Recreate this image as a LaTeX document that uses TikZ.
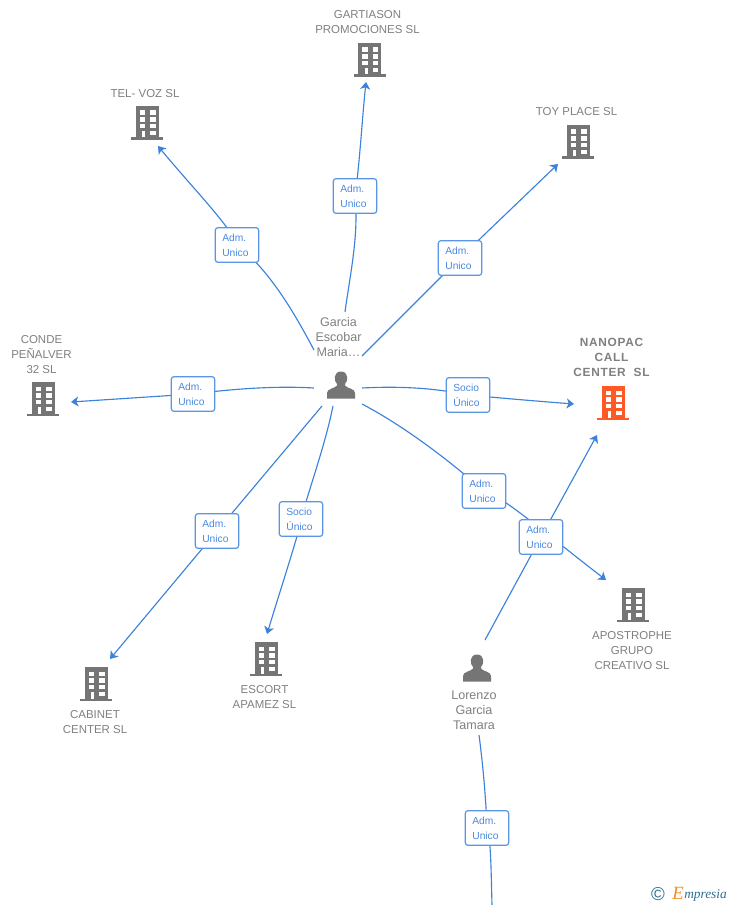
\documentclass[tikz,border=0pt]{standalone}
\usepackage{fontspec}
\setmainfont{Liberation Sans}
\newfontfamily\logofont{Liberation Serif}
\definecolor{linkblue}{HTML}{3B82DC}
\definecolor{boxblue}{HTML}{5A96E6}
\definecolor{labelblue}{HTML}{4A8AE0}
\definecolor{icongrey}{HTML}{757575}
\definecolor{textgrey}{HTML}{808080}
\definecolor{mainorange}{HTML}{FF5A26}
\definecolor{logoteal}{HTML}{2F6F8F}
\definecolor{logoorange}{HTML}{F58A1F}
\usetikzlibrary{arrows.meta}
\tikzset{
  conn/.style={draw=linkblue,line width=0.85pt},
  arr/.style={conn,-{Stealth[length=5.5pt,width=7.5pt,inset=1.5pt]}},
  linklab/.style={draw=boxblue,fill=white,rounded corners=2pt,line width=0.9pt,minimum width=32.5pt,minimum height=26pt,inner ysep=0pt,inner xsep=0pt,text width=22pt,align=left,font=\fontsize{7.7}{11.25}\selectfont,text=labelblue},
  entname/.style={align=center,font=\fontsize{8.6}{11.25}\selectfont,text=textgrey,inner sep=0pt},
  mainname/.style={align=center,font=\bfseries\fontsize{8.9}{11.25}\selectfont\addfontfeature{LetterSpace=6},text=textgrey,inner sep=0pt},
  persname/.style={align=center,font=\fontsize{9.4}{11.25}\selectfont,text=textgrey,inner sep=0pt},
  anchorbox/.style={minimum width=24pt,minimum height=25pt,inner sep=0pt},
  pics/bld/.style={code={
    \fill[#1] (-16,17) rectangle (16,14.5);
    \fill[#1] (-11.5,-17) rectangle (11.5,16);
    \foreach \yy in {-10.2,-3.3,3}{
      \fill[white] (-7.3,\yy-2.3) rectangle (-1.7,\yy+2.3);
      \fill[white] (3,\yy-2.3) rectangle (8.7,\yy+2.3);
    }
    \fill[white] (-5,7.7) rectangle (-1.7,14.5);
    \fill[white] (3,7.7) rectangle (8.7,12);
  }},
  pics/psn/.style={code={
    \fill[icongrey] (-14,13.5) -- (-14,8) .. controls (-14,3.5) and (-6,3.5) .. (-4,0.5) -- (-4,-1) .. controls (-7.5,-4) and (-7.5,-13.5) .. (0,-13.5) .. controls (7.5,-13.5) and (7.5,-4) .. (4,-1) -- (4,0.5) .. controls (6,3.5) and (14,3.5) .. (14,8) -- (14,13.5) -- cycle;
  }}
}
\begin{document}
\begin{tikzpicture}[x=0.75pt,y=-0.75pt]
\useasboundingbox (0,0) rectangle (728,905);
\fill[white] (0,0) rectangle (728,905);
% icon anchors
\node[anchorbox] (telvoz) at (147,123) {};
\node[anchorbox] (gart) at (369.5,60) {};
\node[anchorbox] (toy) at (578,142) {};
\node[anchorbox] (conde) at (43,399) {};
\node[anchorbox] (cabinet) at (96,684) {};
\node[anchorbox] (escort) at (266,659) {};
\node[anchorbox] (nanopac) at (613,403) {};
\node[anchorbox] (apos) at (633,605) {};
\node[anchorbox] (garcia) at (341,385) {};
\node[anchorbox] (lorenzo) at (477,668) {};
\pic at (telvoz) {bld=icongrey};
\pic at (gart) {bld=icongrey};
\pic at (toy) {bld=icongrey};
\pic at (conde) {bld=icongrey};
\pic at (cabinet) {bld=icongrey};
\pic at (escort) {bld=icongrey};
\pic at (nanopac) {bld=mainorange};
\pic at (apos) {bld=icongrey};
\pic at (garcia) {psn};
\pic at (lorenzo) {psn};
% free ends
\coordinate (gA) at (314,350);
\coordinate (gB) at (345,312);
\coordinate (gC) at (362,356);
\coordinate (gD) at (314,388);
\coordinate (gE) at (322,406);
\coordinate (gF) at (333,406);
\coordinate (gG) at (362,388);
\coordinate (gH) at (362,404);
\coordinate (lA) at (485,640);
\coordinate (lB) at (479,735);
\coordinate (bot) at (492,905);
\coordinate (tA) at (158,146);
\coordinate (tB) at (366,82);
\coordinate (tC) at (558,164);
\coordinate (tD) at (71,402);
\coordinate (tE) at (110,659);
\coordinate (tF) at (267,634);
\coordinate (tG) at (574,404);
\coordinate (tH) at (606,580);
\coordinate (tI) at (597,435);
% labels
\coordinate (pA) at (237,245);
\coordinate (pB) at (355,196);
\coordinate (pC) at (460,258);
\coordinate (pD) at (193,394);
\coordinate (pE) at (217,531);
\coordinate (pF) at (301,519);
\coordinate (pG) at (468,395);
\coordinate (pH) at (484,491);
\coordinate (pI) at (541,537);
\coordinate (pJ) at (487,828);
% connectors
\draw[conn] (gA) .. controls (298,320) and (272,272) .. (pA);
\draw[arr] (pA) .. controls (232,228) and (190,185) .. (tA);
\draw[conn] (gB) .. controls (350,275) and (359,235) .. (pB);
\draw[arr] (pB) .. controls (360,160) and (362,120) .. (tB);
\draw[conn] (gC) -- (pC);
\draw[arr] (pC) -- (tC);
\draw[conn] (gD) .. controls (280,386) and (240,388) .. (pD);
\draw[arr] (pD) -- (tD);
\draw[conn] (gE) -- (pE);
\draw[arr] (pE) -- (tE);
\draw[conn] (gF) .. controls (325,445) and (312,480) .. (pF);
\draw[arr] (pF) .. controls (300,530) and (285,575) .. (tF);
\draw[conn] (gG) .. controls (400,386) and (435,388) .. (pG);
\draw[arr] (pG) .. controls (500,398) and (535,401) .. (tG);
\draw[conn] (gH) .. controls (402,425) and (445,457) .. (pH);
\draw[arr] (pH) .. controls (500,494) and (550,537) .. (tH);
\draw[conn] (lA) -- (pI);
\draw[arr] (pI) -- (tI);
\draw[conn] (lB) .. controls (483,765) and (486,800) .. (pJ);
\draw[conn] (pJ) .. controls (491,840) and (491,870) .. (bot);
% link labels
\node[linklab] (lbA) at (pA) {Adm.\\Unico};
\node[linklab] (lbB) at (pB) {Adm.\\Unico};
\node[linklab] (lbC) at (pC) {Adm.\\Unico};
\node[linklab] (lbD) at (pD) {Adm.\\Unico};
\node[linklab] (lbE) at (pE) {Adm.\\Unico};
\node[linklab] (lbF) at (pF) {Socio\\Único};
\node[linklab] (lbG) at (pG) {Socio\\Único};
\node[linklab] (lbH) at (pH) {Adm.\\Unico};
\node[linklab] (lbI) at (pI) {Adm.\\Unico};
\node[linklab] (lbJ) at (pJ) {Adm.\\Unico};
% names
\node[entname] (nGart) at (367.5,22.5) {GARTIASON\\PROMOCIONES SL};
\node[entname] (nTel) at (145,93.5) {TEL- VOZ SL};
\node[entname] (nToy) at (576.5,111.5) {TOY PLACE SL};
\node[entname] (nConde) at (41.5,355) {CONDE\\PEÑALVER\\32 SL};
\node[mainname] (nNano) at (611.5,357.5) {NANOPAC\\CALL\\CENTER\ \ SL};
\node[entname] (nApos) at (632,650.5) {APOSTROPHE\\GRUPO\\CREATIVO SL};
\node[entname] (nCab) at (95,722) {CABINET\\CENTER SL};
\node[entname] (nEsc) at (264.5,697) {ESCORT\\APAMEZ SL};
\node[persname] (nGarcia) at (338.5,337) {Garcia\\Escobar\\Maria…};
\node[persname] (nLor) at (474,710.5) {Lorenzo\\Garcia\\Tamara};
% logo
\node[inner sep=0pt,text=logoteal,font=\fontsize{14}{14}\selectfont] (lgC) at (658,894.5) {©};
\node[inner sep=0pt,anchor=west,text=logoorange,font=\logofont\itshape\fontsize{14}{14}\selectfont] (lgE) at (672,893.5) {E};
\node[inner sep=0pt,anchor=west,text=logoteal,font=\logofont\itshape\fontsize{10}{10}\selectfont] (lgT) at (684,895) {mpresia};
\end{tikzpicture}
\end{document}
